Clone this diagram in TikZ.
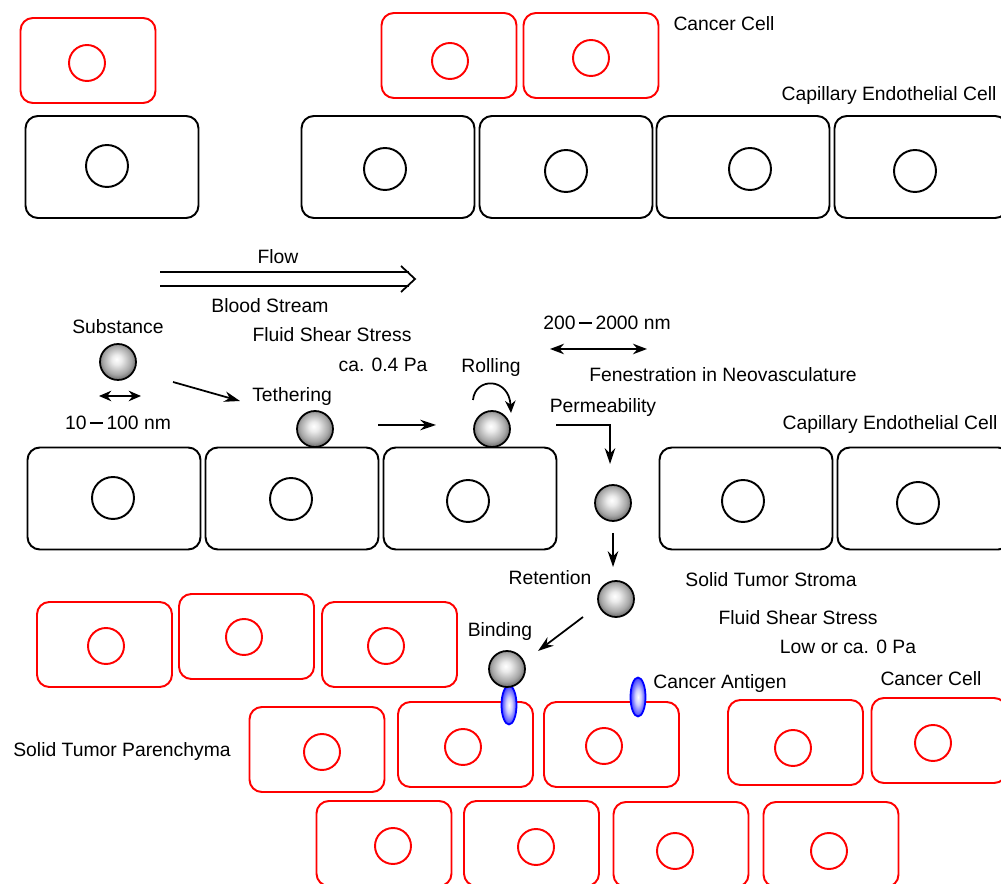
\documentclass[tikz,border=0pt]{standalone}
\usepackage{fontspec}
\setmainfont{Liberation Sans}
\usetikzlibrary{positioning, arrows.meta, shapes.geometric}

% light metallic bead and pale receptor shading
\pgfdeclareradialshading{beadshade}{\pgfpoint{-2bp}{4bp}}{%
  color(0bp)=(white); color(7bp)=(white!92!black); color(20bp)=(gray!70);
  color(30bp)=(black!70); color(36bp)=(black); color(50bp)=(black)}
\pgfdeclareradialshading{antigenshade}{\pgfpointorigin}{%
  color(0bp)=(white); color(10bp)=(blue!20); color(26bp)=(blue!80); color(36bp)=(blue); color(50bp)=(blue)}

\tikzset{
  endocell/.style={draw=black, line width=1.1pt, rounded corners=7pt,
    minimum width=3.46cm, minimum height=2.04cm},
  tumorcell/.style={draw=red, line width=1.1pt, rounded corners=7pt,
    minimum width=2.70cm, minimum height=1.70cm},
  nucleus/.style={circle, draw, line width=1.1pt, inner sep=0pt, minimum size=0.84cm},
  tumornucleus/.style={nucleus, draw=red, minimum size=0.72cm},
  particle/.style={circle, draw=black, line width=1pt, inner sep=0pt,
    minimum size=0.72cm, shading=beadshade},
  antigen/.style={ellipse, draw=blue, line width=1pt, inner sep=0pt,
    minimum width=0.30cm, minimum height=0.78cm, shading=antigenshade},
  arr/.style={line width=1pt, -{Stealth[length=9pt, width=6pt]}},
  darr/.style={line width=1pt, {Stealth[length=7pt, width=6pt]}-{Stealth[length=7pt, width=6pt]}},
}

\begin{document}
\begin{tikzpicture}[x=0.02cm, y=-0.02cm, font=\fontsize{11}{13}\selectfont]
  \useasboundingbox (0,0) rectangle (1001,884);

  % capillary wall, upper vessel
  \foreach \n/\cx/\nx/\ny in {a/112/107/166, b/388/385/169, c/566/566/171,
                               d/743/750/169, e/921/915/171} {
    \node[endocell] (top\n) at (\cx,167) {};
    \node[nucleus] (topnuc\n) at (\nx,\ny) {};
  }

  % capillary wall, lower vessel (gap = fenestration)
  \foreach \n/\cx/\nx/\ny in {a/114/113/498, b/292/291/499, c/470/468/501,
                               d/746/743/501, e/924/918/503} {
    \node[endocell] (mid\n) at (\cx,498.5) {};
    \node[nucleus] (midnuc\n) at (\nx,\ny) {};
  }

  % cancer cells
  \foreach \n/\cx/\cy/\nx/\ny in {
      t1/88/60.5/87/63, t2/449/55.5/450/61, t3/591/55.5/591/58,
      a1/104.5/644.5/106/646, a2/246.5/636.5/244/637, a3/389.5/644.5/386/646,
      b1/317/749.5/322/752, b2/465.5/744.5/463/747, b3/611.5/744.5/604/746,
      b4/795.5/742.5/793/748, b5/939/740.5/933/743,
      c1/384/843.5/393/846, c2/531.5/843.5/536/847, c3/681/844.5/675/851,
      c4/831/844.5/829/851} {
    \node[tumorcell] (cc\n) at (\cx,\cy) {};
    \node[tumornucleus] (ccnuc\n) at (\nx,\ny) {};
  }

  % antigens on the tumor cell surface
  \node[antigen] (ag1) at (509,705) {};
  \node[antigen] (ag2) at (638,697) {};

  % the substance on its way
  \node[particle] (subst) at (118,362) {};
  \node[particle] (tether) at (315,429) {};
  \node[particle] (roll) at (492,429) {};
  \node[particle] (perm) at (613,503) {};
  \node[particle] (retain) at (616,599) {};
  \node[particle] (bind) at (507,669) {};

  % labels
  \node (lblcc1) at (724,24) {Cancer Cell};
  \node (lblcap1) at (889,96) {Capillary Endothelial Cell};
  \node (lblflow) at (278,257) {Flow};
  \node (lblblood) at (270,306) {Blood Stream};
  \node (lblshear1) at (332,335) {Fluid Shear Stress};
  \node (lblpa1) at (383,365) {ca. 0.4 Pa};
  \node (lblsubst) at (118,327) {Substance};
  \node (lblsize) at (118,423) {10\,\rule[0.3em]{0.7em}{0.11em}\,100 nm};
  \node (lbltether) at (292,397) {Tethering};
  \node (lblroll) at (491,368) {Rolling};
  \node (lblfen) at (607,323) {200\,\rule[0.3em]{0.7em}{0.11em}\,2000 nm};
  \node (lblneo) at (723,375) {Fenestration in Neovasculature};
  \node (lblperm) at (603,408) {Permeability};
  \node (lblcap2) at (890,425) {Capillary Endothelial Cell};
  \node (lblret) at (550,578) {Retention};
  \node (lblstroma) at (771,580) {Solid Tumor Stroma};
  \node (lblshear2) at (798,618) {Fluid Shear Stress};
  \node (lblpa2) at (848,647) {Low or ca. 0 Pa};
  \node (lblbind) at (500,632) {Binding};
  \node (lblag) at (720,684) {Cancer Antigen};
  \node (lblcc2) at (931,679) {Cancer Cell};
  \node (lblparen) at (122,752) {Solid Tumor Parenchyma};

  % flow arrow
  \coordinate (flowA) at (160,272);
  \coordinate (flowB) at (160,286);
  \coordinate (flowtip) at (415,279);
  \draw[line width=1pt] (flowA) -- (409,272);
  \draw[line width=1pt] (flowB) -- (409,286);
  \draw[line width=1pt] (401,266) -- (flowtip) -- (401,292);

  % sizes
  \coordinate (sizeL) at (99,396);
  \coordinate (sizeR) at (141,396);
  \draw[darr] (sizeL) -- (sizeR);
  \coordinate (fenL) at (550,349);
  \coordinate (fenR) at (647,349);
  \draw[darr, {Stealth[length=8pt, width=6pt]}-{Stealth[length=8pt, width=6pt]}] (fenL) -- (fenR);

  % steps
  \coordinate (s1a) at (173,382);
  \coordinate (s1b) at (240,401);
  \draw[arr] (s1a) -- (s1b);
  \coordinate (s2a) at (378,425);
  \coordinate (s2b) at (436,425);
  \draw[arr] (s2a) -- (s2b);
  \coordinate (rollS) at (473,400);
  \coordinate (rollE) at (511,413);
  \draw[arr, -{Stealth[length=7pt, width=6pt]}] (rollS) .. controls (475,377) and (509,377) .. (rollE);
  \coordinate (permS) at (556,425);
  \coordinate (permE) at (610,464);
  \draw[arr] (permS) -| (permE);
  \coordinate (retS) at (613,533);
  \coordinate (retE) at (613,567);
  \draw[arr] (retS) -- (retE);
  \coordinate (bindS) at (583,617);
  \coordinate (bindE) at (538,651);
  \draw[arr] (bindS) -- (bindE);
\end{tikzpicture}
\end{document}
